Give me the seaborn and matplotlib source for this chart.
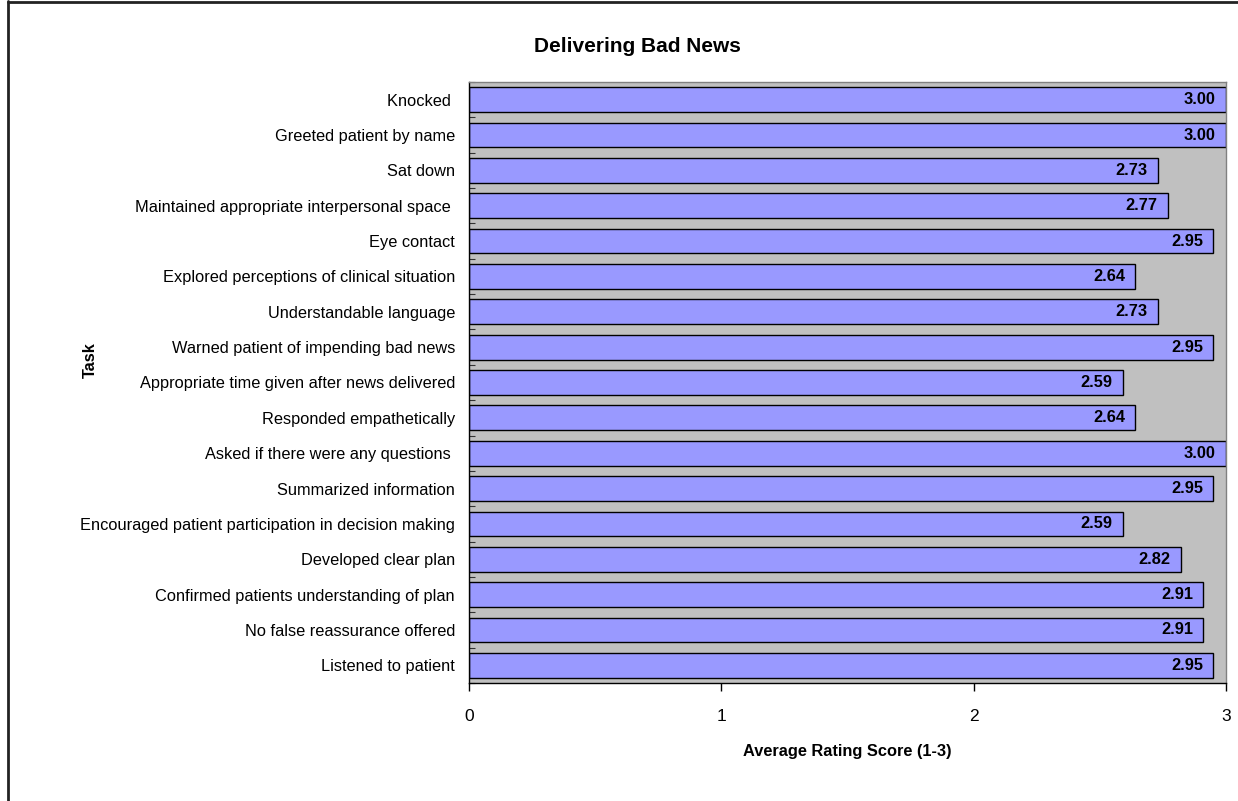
import matplotlib
matplotlib.use("Agg")
import matplotlib.pyplot as plt
import seaborn as sns
import pandas as pd
import numpy as np
from matplotlib.ticker import FixedLocator

tasks = [
    "Knocked ",
    "Greeted patient by name",
    "Sat down",
    "Maintained appropriate interpersonal space ",
    "Eye contact",
    "Explored perceptions of clinical situation",
    "Understandable language",
    "Warned patient of impending bad news",
    "Appropriate time given after news delivered",
    "Responded empathetically",
    "Asked if there were any questions ",
    "Summarized information",
    "Encouraged patient participation in decision making",
    "Developed clear plan",
    "Confirmed patients understanding of plan",
    "No false reassurance offered",
    "Listened to patient",
]
scores = [3.00, 3.00, 2.73, 2.77, 2.95, 2.64, 2.73, 2.95, 2.59, 2.64,
          3.00, 2.95, 2.59, 2.82, 2.91, 2.91, 2.95]
x_ticks = [0, 1, 2, 3]

df = pd.DataFrame({"Task": tasks, "Score": scores})

sns.set_theme(style="white")
plt.rcParams["font.family"] = ["Liberation Sans", "DejaVu Sans"]
plt.rcParams["text.color"] = "black"
plt.rcParams["axes.labelcolor"] = "black"
plt.rcParams["xtick.color"] = "black"
plt.rcParams["ytick.color"] = "black"

fig = plt.figure(figsize=(12.38, 8.01), dpi=100)
ax = fig.add_axes([469/1238, 1-683/801, (1226-469)/1238, (683-82)/801])

sns.barplot(data=df, x="Score", y="Task", orient="h", color="#9999FF",
            saturation=1, edgecolor="black", linewidth=1.0, width=0.7, ax=ax)

ax.set_facecolor("#C0C0C0")
ax.set_xlim(0, 3)
ax.set_ylim(len(tasks) - 0.5, -0.5)
ax.xaxis.set_major_locator(FixedLocator(x_ticks))
ax.set_xticklabels([str(t) for t in x_ticks], fontsize=12.5)
ax.tick_params(axis="x", direction="out", length=6, width=1, color="black", pad=13, bottom=True)
ax.tick_params(axis="y", which="major", length=0, labelsize=11.8, pad=10)
ax.yaxis.set_minor_locator(FixedLocator(np.arange(-0.5, len(tasks), 1.0)))
ax.tick_params(axis="y", which="minor", direction="in", length=4, width=0.8, color="#333333", left=True)

for side in ["left", "bottom"]:
    ax.spines[side].set_color("black")
    ax.spines[side].set_linewidth(1)
for side in ["top", "right"]:
    ax.spines[side].set_color("#808080")
    ax.spines[side].set_linewidth(1)

for i, v in enumerate(scores):
    ax.text(v - 0.04, i, f"{v:.2f}", ha="right", va="center",
            fontsize=11.8, fontweight="bold", color="black")

ax.set_xlabel("Average Rating Score (1-3)", fontsize=11.8, fontweight="bold", labelpad=14)
ax.set_ylabel("")
fig.text(90/1238, 1-360/801, "Task", rotation=90, fontsize=11.8, fontweight="bold",
         ha="center", va="center")

fig.text(637/1238, 1-47/801, "Delivering Bad News", fontsize=15, fontweight="bold",
         ha="center", va="center")

# outer chart border (left and top visible)
fig.add_artist(plt.Line2D([7.5/1238, 7.5/1238], [0, 1-1/801], transform=fig.transFigure,
                          color="#222222", linewidth=2))
fig.add_artist(plt.Line2D([7.5/1238, 1], [1-1.5/801, 1-1.5/801], transform=fig.transFigure,
                          color="#222222", linewidth=2))

fig.savefig("out.png", dpi=100, facecolor="white")
